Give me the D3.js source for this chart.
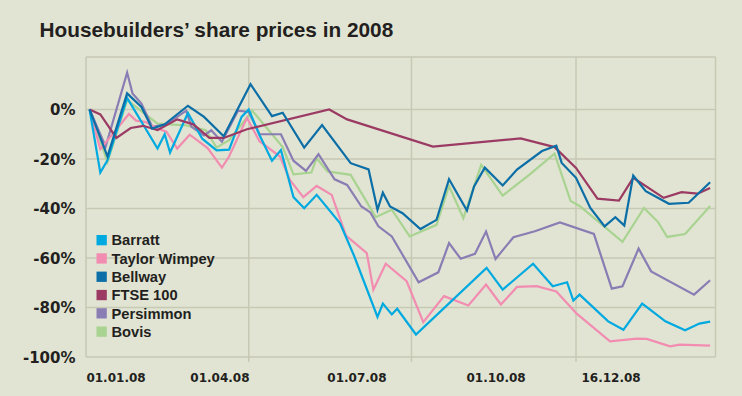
<!DOCTYPE html>
<html>
<head>
<meta charset="utf-8">
<script src="https://cdn.jsdelivr.net/npm/d3@7"></script>
<style>
  html, body { margin: 0; padding: 0; background: #e1e4d3; }
  svg { display: block; }
  .title { font-family: "Liberation Sans", Arial, sans-serif; font-weight: bold; font-size: 20.8px; fill: #231f20; }
  .legend text { font-family: "Liberation Sans", Arial, sans-serif; font-weight: bold; font-size: 14.7px; fill: #231f20; }
  .axis text { font-family: "DejaVu Sans", sans-serif; font-weight: bold; fill: #231f20; }
  .grid line { stroke: #c6c9b4; stroke-width: 1.5; }
</style>
</head>
<body>
<svg></svg>
<script>

// days since 01.01.08, % change since start of year
var barratt = [[2,0],[8,-25.5],[12,-20.5],[23,4.7],[40,-15.8],[44,-10],[47,-17.4],[57,-1.4],[65,-11.8],
  [73,-16.5],[80,-16.2],[87,-3],[91,0],[97,-10.3],[104,-20.7],[109,-16.4],[116,-35.4],[122,-39.9],
  [129,-34.5],[142,-45.9],[150,-59.3],[163,-83.8],[166,-78.4],[171,-82.8],[174,-80.5],[184.5,-90.9],
  [224,-64],[233,-72.8],[250,-62.3],[261,-71.4],[269,-69.8],[272.5,-77.2],[276,-74.8],[292,-85.6],
  [300.5,-89],[311,-78.4],[324,-85.6],[335,-89.2],[343,-86.5],[349,-85.7]];

var taylorWimpey = [[2,0],[8,-16],[24,-1.8],[28,-4.5],[33,-5],[40,-7.7],[45,-9],[51,-15.8],[58,-10.2],
  [68,-15.6],[76,-23.5],[80,-19],[90,-3.4],[97,-12.8],[108.5,-19],[114,-28.5],[121.5,-35.4],[129,-30.9],
  [137.4,-34.5],[145.4,-51],[157,-58],[160.7,-72.8],[167.6,-62.3],[179.3,-69.4],[188.6,-85.9],
  [200.2,-75.4],[213.8,-79.2],[223.7,-70.7],[232,-78.8],[241,-71.7],[252,-71.4],[263,-73.5],
  [274.4,-82.5],[293,-93.7],[308,-92.6],[313.5,-92.7],[326.6,-95.7],[332,-95],[349,-95.4]];

var bellway = [[2,0],[12,-19],[23,6.5],[31,1],[37,-7.7],[44,-6],[57,1.5],[66,-3],[77,-10.8],[92,10.2],
  [104,-2.7],[110,-1.3],[122,-15.4],[132,-6.3],[148,-21.7],[158,-24.2],[163,-40.5],[166,-33.6],
  [170,-39.2],[177,-41.9],[187,-48.3],[196,-44.6],[203,-28.2],[213,-40.8],[217,-31.1],[223,-23.5],
  [233,-30.7],[241,-24.3],[255,-16.8],[263,-14.6],[266,-21.6],[274,-27.6],[282,-39.8],[290,-47.2],
  [296,-43.5],[301,-46.9],[306,-26.7],[313,-33],[326,-38.1],[337,-37.7],[349,-29.4]];

var ftse100 = [[2,0],[8,-2],[17,-11.5],[25,-7.5],[32,-6.6],[40,-8.3],[51,-4],[60,-6],[69,-11.5],
  [77,-11.5],[90,-8],[136,0],[146,-4],[194,-15],[243,-11.7],[262,-15.2],[274,-23.6],[286,-36],
  [298,-36.8],[306,-27.6],[323,-35.7],[333,-33.4],[342,-34],[349,-31.7]];

var persimmon = [[2,0],[11,-15],[23,14.9],[26,6.5],[31,2.4],[37,-7],[45,-6],[56,-0.5],[59,-7],
  [66,-10.5],[70,-8.4],[76,-13],[85,-0.5],[91,-1],[97,-10],[109,-10],[116,-20.7],[123,-24.8],
  [130,-18.1],[139,-28.2],[146,-30.5],[154,-39.2],[159,-41.6],[163.5,-47.2],[171,-51.3],[186,-69.8],
  [197,-65.8],[203,-54],[209.5,-60.3],[217.5,-58.3],[223.7,-49.3],[229,-60.4],[239,-51.6],[251,-49.2],
  [265,-45.6],[284,-50.3],[294,-72.4],[300,-71.4],[309,-56.2],[316,-65.4],[340,-74.8],[349,-69]];

var bovis = [[2,0],[12,-21.2],[23,3.8],[40,-5.7],[56,-6.4],[67,-8.4],[73,-15.4],[80,-12.4],[93,-0.5],
  [110,-15.2],[116,-26.2],[126,-25.5],[129,-19.7],[135,-25],[148,-26.4],[162,-43.5],[171,-40.5],
  [181,-51.3],[196,-46.6],[203,-30.9],[211,-43.9],[221,-22.4],[233,-34.8],[248,-26.3],[262,-17.8],
  [271,-37],[276,-39],[300,-53.5],[312,-39.8],[320,-45.6],[325,-51.5],[335,-50.3],[349,-39]];

var seriesNames = ["Barratt", "Taylor Wimpey", "Bellway", "FTSE 100", "Persimmon", "Bovis"];
var seriesValues = [barratt, taylorWimpey, bellway, ftse100, persimmon, bovis];

var yTicks = [0, -20, -40, -60, -80, -100];
var gridDays = [0, 91, 182, 274];
var xLabels = ["01.01.08", "01.04.08", "01.07.08", "01.10.08", "16.12.08"];
var xLabelDays = [16.8, 74.9, 151.5, 229.3, 293.6];

var colors = ["#00a9e0", "#f28cb1", "#0b6ea6", "#9b3a63", "#8a7db4", "#a9d391"];
var drawOrder = [5, 4, 1, 0, 3, 2];

var width = 742;
var height = 396;
var margin = {top: 57, right: 26.5, bottom: 39, left: 86};

var x = d3.scaleLinear()
            .domain([0, 352])
            .range([margin.left, width - margin.right]);

var y = d3.scaleLinear()
            .domain([-100, 21.2])
            .range([height - margin.bottom, margin.top]);

var svg = d3.select('svg')
              .attr('width', width)
              .attr('height', height);

svg.append('rect')
    .attr('width', width)
    .attr('height', height)
    .attr('fill', '#e1e4d3');

svg.append('text')
    .attr('class', 'title')
    .attr('x', 39.5)
    .attr('y', 36.5)
    .text('Housebuilders’ share prices in 2008');

var grid = svg.append('g').attr('class', 'grid');

// horizontal gridlines + top border
grid.selectAll('.hline')
    .data(yTicks.concat([y.domain()[1]]))
    .enter()
    .append('line')
      .attr('x1', x(0))
      .attr('x2', x(352))
      .attr('y1', d => y(d))
      .attr('y2', d => y(d));

// vertical gridlines (quarters) extend a little below as ticks
grid.selectAll('.vline')
    .data(gridDays)
    .enter()
    .append('line')
      .attr('x1', d => x(d))
      .attr('x2', d => x(d))
      .attr('y1', y.range()[1])
      .attr('y2', d => d === 0 ? y.range()[0] : y.range()[0] + 5);

grid.append('line')
    .attr('x1', x(352))
    .attr('x2', x(352))
    .attr('y1', y.range()[1])
    .attr('y2', y.range()[0]);

var yAxis = svg.append('g').attr('class', 'axis');
yAxis.selectAll('text')
    .data(yTicks)
    .enter()
    .append('text')
      .attr('x', 75.5)
      .attr('y', d => y(d))
      .attr('dy', '0.37em')
      .attr('text-anchor', 'end')
      .style('font-size', '15px')
      .text(d => d + '%');

var xAxis = svg.append('g').attr('class', 'axis');
xAxis.selectAll('text')
    .data(xLabels)
    .enter()
    .append('text')
      .attr('x', (d, i) => x(xLabelDays[i]))
      .attr('y', 381.5)
      .attr('text-anchor', 'middle')
      .style('font-size', '12px')
      .text(d => d);

var line = d3.line()
               .x(d => x(d[0]))
               .y(d => y(d[1]));

svg.append('g')
    .selectAll('path')
    .data(drawOrder)
    .enter()
    .append('path')
      .attr('d', i => line(seriesValues[i]))
      .attr('fill', 'none')
      .attr('stroke', i => colors[i])
      .attr('stroke-width', 2.2);

var legend = svg.append('g')
                  .attr('class', 'legend')
                  .attr('transform', 'translate(96.5,245.3)');

var item = legend.selectAll('g')
                   .data(seriesNames)
                   .enter()
                   .append('g')
                     .attr('transform', (d, i) => 'translate(0,' + (i * 18.3) + ')');

item.append('rect')
    .attr('y', -10.3)
    .attr('width', 10.3)
    .attr('height', 10.3)
    .attr('fill', (d, i) => colors[i]);

item.append('text')
    .attr('x', 15)
    .text(d => d);

</script>
</body>
</html>
